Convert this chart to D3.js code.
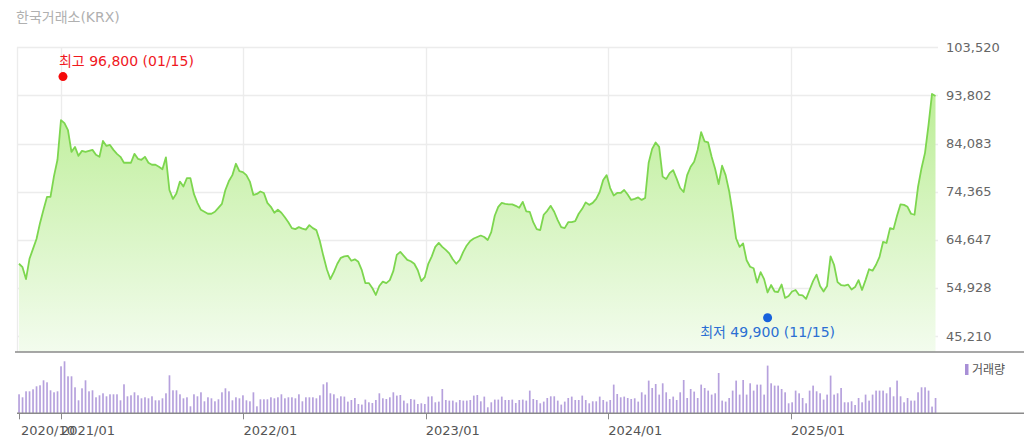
<!DOCTYPE html>
<html><head><meta charset="utf-8">
<script src="https://cdn.jsdelivr.net/npm/d3@7"></script>
<style>
html,body{margin:0;padding:0;background:#fff;}
svg{display:block;font-family:"DejaVu Sans","Noto Sans CJK KR",sans-serif;}
</style></head>
<body>
<svg id="chart" width="1024" height="448"></svg>
<script>
// ---------- data ----------
const title = "한국거래소(KRX)";
const startDate = "2020-10-09"; // first weekly point
const prices = [
 59800,59100,56700,60800,62800,64800,68000,70700,73300,73300,
 77500,80800,88800,88200,86800,82400,83400,81600,82600,82400,
 82600,82800,81800,81400,84600,83600,83800,82800,82000,81400,
 80200,80200,80200,82000,81000,80800,81400,80200,79800,79800,
 79400,78900,81300,74700,72900,74000,76400,75400,77100,77100,
 73900,72100,70700,70300,69900,69900,70300,71100,71900,74700,
 76500,77700,80000,78500,78300,77700,76400,73700,73900,74400,
 74100,72100,71300,70100,70700,70100,69200,68200,67000,66800,
 67200,66900,66700,67600,67000,66600,64400,61400,58700,56700,
 58100,59800,61000,61300,61400,60400,60700,60200,58500,55900,
 55900,54900,53500,55300,56200,55900,56500,58300,61600,62200,
 61400,60600,60300,59800,58500,56300,57100,59800,61300,63200,
 64000,63200,62600,61900,60700,59800,60600,62200,63500,64400,
 64900,65200,65500,65200,64600,66200,69500,71300,72100,71900,
 71800,71800,71500,71100,72300,70400,70300,68200,66800,66600,
 69700,70500,71500,70300,68600,67200,67000,68200,68200,68400,
 69900,70900,72200,71700,72100,72900,74300,76700,77700,75100,
 73600,74100,74100,74700,73800,72700,72900,73200,72700,73100,
 80200,83000,84300,83400,77400,76900,78100,78700,77000,75100,
 74300,77700,79400,80400,82800,86400,84500,84300,81400,79000,
 75900,79600,77700,74500,70100,64900,63200,63900,60500,59200,
 58900,56000,58100,56700,54000,55500,54200,54100,55600,52900,
 53300,54200,54500,53500,53400,52700,54500,56300,57600,55300,
 54200,55300,61300,59600,56100,55500,55400,55600,54600,55100,
 56500,54500,56500,58700,58400,59600,61200,64200,64000,67000,
 66800,69500,71800,71700,71300,69900,69700,75300,79100,82200,
 87800,94100,93700
];
const volumes = [
 190,160,220,220,240,270,280,330,310,230,210,220,470,520,370,370,260,130,250,330,
 220,230,160,180,200,170,190,190,190,130,290,170,180,210,180,150,160,150,170,130,
 130,150,200,380,230,230,190,150,160,70,190,170,210,120,160,150,120,140,210,250,
 220,130,160,150,180,130,120,210,70,140,140,140,160,150,160,190,150,160,160,150,
 190,120,160,160,160,150,180,290,310,200,190,150,170,
 167,117,133,153,93,87,137,110,103,133,200,150,143,160,210,177,183,127,100,143,
 137,93,100,93,167,170,110,117,243,133,127,127,110,133,127,127,133,177,183,120,
 167,60,110,137,137,167,133,133,137,103,133,137,127,227,143,133,100,117,153,170,
 170,127,87,117,153,167,133,133,177,133,100,120,120,167,133,117,133,287,193,160,
 167,153,143,150,117,210,187,327,253,293,187,300,210,143,167,133,210,
 333,153,243,217,153,287,253,227,187,200,403,127,117,153,227,327,187,333,187,300,
 227,287,287,187,477,300,277,277,243,210,100,110,227,200,153,100,227,277,220,200,
 137,187,377,187,200,253,110,110,120,83,153,110,187,127,187,227,227,227,200,260,
 170,327,170,110,153,127,127,210,260,260,227,67,153
];
const yTickValues = [45210, 54928, 64647, 74365, 84083, 93802, 103520];
const yTickLabels = ["45,210","54,928","64,647","74,365","84,083","93,802","103,520"];
const xTickDates = ["2020-10-09","2021-01-01","2022-01-01","2023-01-01","2024-01-01","2025-01-01"];
const xTickLabels = ["2020/10","2021/01","2022/01","2023/01","2024/01","2025/01"];
const highInfo = {value: 96800, date: "2021-01-05", label: "최고 96,800 (01/15)"};
const lowInfo = {value: 49900, date: "2024-11-15", label: "최저 49,900 (11/15)"};
const legendLabel = "거래량";

// ---------- layout ----------
const svg = d3.select("#chart");
const parse = d3.timeParse("%Y-%m-%d");
const start = parse(startDate);
const dates = prices.map((_, i) => d3.timeDay.offset(start, 7 * i));

const plotLeft = 17, plotRight = 937, gridRight = 938;
const plotTop = 47.3, plotBottom = 352;
const volBase = 413.3;

const x = d3.scaleTime()
  .domain([parse("2020-10-05"), parse("2025-10-20")])
  .range([plotLeft, plotRight]);
const y = d3.scaleLinear().domain([45210, 103520]).range([336, plotTop]);
const yv = d3.scaleLinear().domain([0, 600]).range([volBase, volBase - 60]);

// title
svg.append("text").attr("x", 16).attr("y", 18).attr("dominant-baseline", "middle")
  .attr("fill", "#b0b0b0").attr("font-size", 14).text(title);

// gradient
const defs = svg.append("defs");
const grad = defs.append("linearGradient").attr("id", "areaGrad")
  .attr("gradientUnits", "userSpaceOnUse")
  .attr("x1", 0).attr("x2", 0).attr("y1", y(93802)).attr("y2", plotBottom);
grad.append("stop").attr("offset", "0%").attr("stop-color", "#bdee98");
grad.append("stop").attr("offset", "100%").attr("stop-color", "#f3fcee");

// horizontal grid
svg.append("g").selectAll("line").data(yTickValues).join("line")
  .attr("x1", plotLeft).attr("x2", gridRight)
  .attr("y1", d => Math.round(y(d)) + 0.5).attr("y2", d => Math.round(y(d)) + 0.5)
  .attr("stroke", "#ececec").attr("stroke-width", 1.3);

// vertical grid
const vgrid = [parse("2020-10-05")].concat(xTickDates.slice(1).map(parse));
svg.append("g").selectAll("line").data(vgrid).join("line")
  .attr("x1", d => Math.round(x(d)) + 0.5).attr("x2", d => Math.round(x(d)) + 0.5)
  .attr("y1", plotTop).attr("y2", plotBottom)
  .attr("stroke", "#ececec").attr("stroke-width", 1.3);

// area + line
const pts = prices.map((v, i) => ({d: dates[i], v}));
svg.append("path").datum(pts)
  .attr("fill", "url(#areaGrad)")
  .attr("d", d3.area().x(p => x(p.d)).y0(plotBottom).y1(p => y(p.v)));
svg.append("path").datum(pts)
  .attr("fill", "none").attr("stroke", "#7dd64f").attr("stroke-width", 1.8)
  .attr("stroke-linejoin", "round")
  .attr("d", d3.line().x(p => x(p.d)).y(p => y(p.v)));

// right axis labels
svg.append("g").selectAll("text").data(yTickValues).join("text")
  .attr("x", 946).attr("y", d => y(d) + 1).attr("dominant-baseline", "middle")
  .attr("fill", "#666").attr("font-size", 13)
  .text((d, i) => yTickLabels[i]);

// main axis line
svg.append("line").attr("x1", 15).attr("x2", 1024).attr("y1", plotBottom).attr("y2", plotBottom)
  .attr("stroke", "#8a8a8a").attr("stroke-width", 1.5);

// high / low markers
const hx = x(parse(highInfo.date)), hy = y(highInfo.value) - 4;
svg.append("circle").attr("cx", hx).attr("cy", hy).attr("r", 4.5).attr("fill", "#f50a0a");
svg.append("text").attr("x", hx - 4).attr("y", hy - 15).attr("dominant-baseline", "middle")
  .attr("fill", "#f0181e").attr("font-size", 14).text(highInfo.label);
const lx = x(parse(lowInfo.date)), ly = y(lowInfo.value) + 5;
svg.append("circle").attr("cx", lx).attr("cy", ly).attr("r", 4.5).attr("fill", "#1762dc");
svg.append("text").attr("x", lx).attr("y", ly + 15).attr("dominant-baseline", "middle")
  .attr("text-anchor", "middle").attr("fill", "#2b6fd3").attr("font-size", 14).text(lowInfo.label);

// volume bars
svg.append("g").selectAll("rect").data(volumes).join("rect")
  .attr("x", (v, i) => x(dates[i]) - 0.8).attr("width", 1.7)
  .attr("y", v => yv(v)).attr("height", v => volBase - yv(v))
  .attr("fill", "#b6a1dd");

// volume axis
svg.append("line").attr("x1", plotLeft).attr("x2", 1024).attr("y1", volBase).attr("y2", volBase)
  .attr("stroke", "#8a8a8a").attr("stroke-width", 1.5);
const xt = xTickDates.map(parse);
svg.append("g").selectAll("line").data(xt).join("line")
  .attr("x1", d => Math.round(x(d)) + 0.5).attr("x2", d => Math.round(x(d)) + 0.5)
  .attr("y1", volBase).attr("y2", volBase + 6)
  .attr("stroke", "#8a8a8a").attr("stroke-width", 1);
svg.append("g").selectAll("text").data(xt).join("text")
  .attr("x", (d, i) => x(d) + (i === 0 ? 2 : 0)).attr("y", 431).attr("dominant-baseline", "middle")
  .attr("fill", "#555").attr("font-size", 13)
  .text((d, i) => xTickLabels[i]);

// legend
svg.append("rect").attr("x", 965).attr("y", 364).attr("width", 3.5).attr("height", 11).attr("fill", "#a88fd6");
svg.append("text").attr("x", 972).attr("y", 370).attr("dominant-baseline", "middle")
  .attr("fill", "#555").attr("font-size", 12).text(legendLabel);
</script>
</body></html>
